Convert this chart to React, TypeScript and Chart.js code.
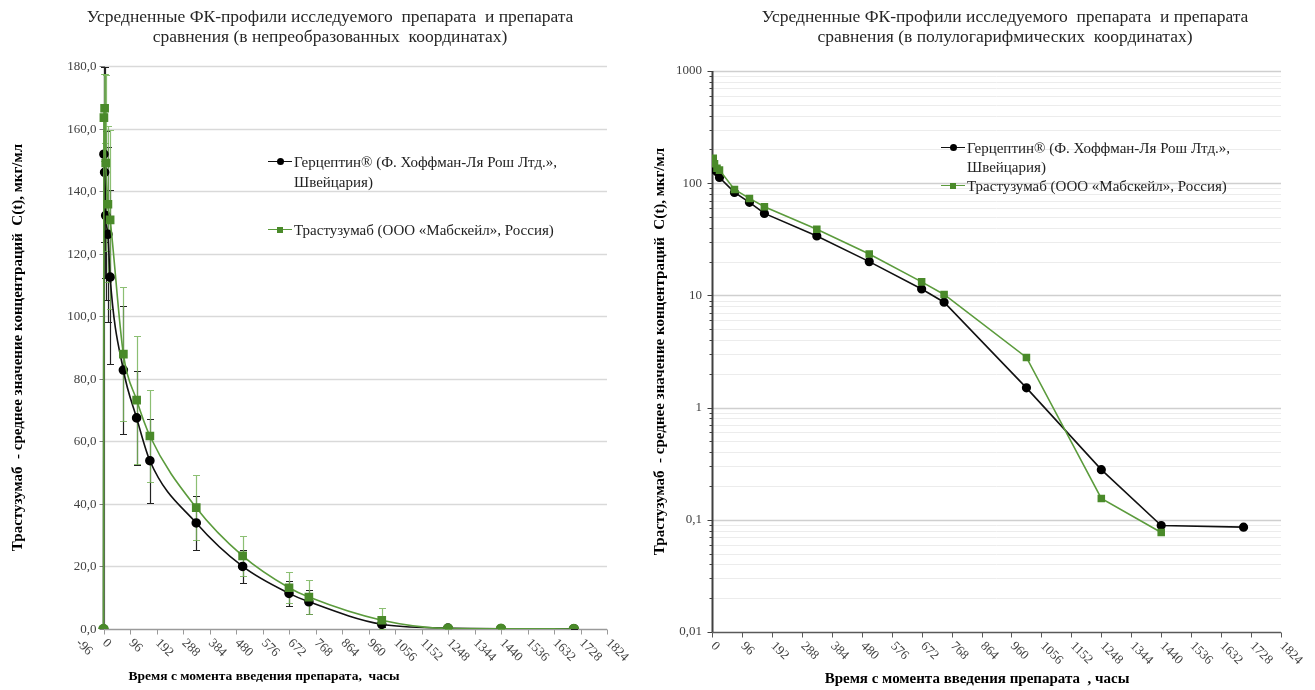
import React, { useEffect, useRef } from 'react';
import { Chart, registerables } from 'chart.js';

Chart.register(...registerables);

// ---------------- data ----------------
const timeHours = [0, 1.5, 4, 8, 16, 24, 72, 120, 168, 336, 504, 672, 744, 1008, 1248, 1440, 1704];
const herceptinMean = [0, 151.8, 146.0, 132.2, 126.2, 112.5, 82.8, 67.5, 53.8, 33.9, 20.0, 11.4, 8.7, 1.5, 0.28, 0.089, 0.086];
const herceptinSD = [0, 28.0, 33.7, 27.0, 28.0, 27.7, 20.5, 15.1, 13.4, 8.5, 5.4, 3.9, 3.8, 0.8, 0.2, 0.05, 0.05];
const trastuzumabMean = [0, 163.5, 166.5, 149.0, 135.8, 130.8, 87.9, 73.2, 61.7, 38.8, 23.4, 13.2, 10.2, 2.8, 0.155, 0.077, 0];
const trastuzumabSD = [0, 14.0, 11.0, 28.0, 25.0, 28.6, 21.4, 20.5, 14.7, 10.3, 6.3, 5.0, 5.5, 3.8, 0.2, 0.05, 0];

const xStepHours = 96;
const linXMin = -96;
const logXMin = 0;
const xMax = 1824;
const linYMin = 0;
const linYMax = 180;
const linYStep = 20;
const logYMin = 0.01;
const logYMax = 1000;
const logDecades = [0.01, 0.1, 1, 10, 100, 1000];
const logMinorMultipliers = [1, 2, 3, 4, 5, 6, 7, 8, 9];

const herceptinLegend = ['Герцептин® (Ф. Хоффман-Ля Рош Лтд.»,', 'Швейцария)'];
const trastuzumabLegend = ['Трастузумаб (ООО «Мабскейл», Россия)'];
const leftTitle = ['Усредненные ФК-профили исследуемого  препарата  и препарата', 'сравнения (в непреобразованных  координатах)'];
const rightTitle = ['Усредненные ФК-профили исследуемого  препарата  и препарата', 'сравнения (в полулогарифмических  координатах)'];
const yTitle = 'Трастузумаб  - среднее значение концентраций  С(t), мкг/мл';
const leftXTitle = 'Время с момента введения препарата,  часы';
const rightXTitle = 'Время с момента введения препарата  , часы';

// ---------------- styling ----------------
const SERIF = '"Liberation Serif", "Times New Roman", serif';
const BLACK = '#111111';
const GREEN_LINE = '#5B9B3C';
const GREEN_MARK = '#4A8A2A';
const GREEN_ERR = 'rgba(120,180,90,0.85)';
const TICK_COLOR = '#404040';

const isDecade = (v: number) => {
  const l = Math.log10(v);
  return Math.abs(l - Math.round(l)) < 1e-9;
};

const excelAxesPlugin = {
  id: 'excelAxes',
  beforeDatasetsDraw(chart: any, _args: any, opts: any) {
    const { ctx, chartArea: ca } = chart;
    const xs = chart.scales.x;
    const ys = chart.scales.y;
    const x0 = Math.round(xs.getPixelForValue(0)) + 0.5;
    ctx.save();
    ys.ticks.forEach((t: any) => {
      const py = Math.round(ys.getPixelForValue(t.value)) + 0.5;
      const major = opts.logMode ? isDecade(t.value) : true;
      if (t.value > ys.min) {
        ctx.strokeStyle = major ? opts.gridMajor : opts.gridMinor;
        ctx.lineWidth = major ? 1.5 : 1;
        ctx.beginPath();
        ctx.moveTo(x0, py);
        ctx.lineTo(ca.right, py);
        ctx.stroke();
      }
      ctx.strokeStyle = opts.yAxisColor;
      ctx.lineWidth = 1;
      const tl = major ? 5 : 3;
      ctx.beginPath();
      ctx.moveTo(x0 - tl, py);
      ctx.lineTo(x0, py);
      ctx.stroke();
      if (opts.drawYLabels) {
        ctx.save();
        ctx.font = `13px ${SERIF}`;
        ctx.fillStyle = opts.tickColor;
        ctx.textAlign = 'right';
        ctx.textBaseline = 'middle';
        ctx.fillText(Number(t.value).toFixed(1).replace('.', ','), x0 - 8, py);
        ctx.restore();
      }
    });
    ctx.strokeStyle = opts.yAxisColor;
    ctx.lineWidth = opts.yAxisWidth;
    ctx.beginPath();
    ctx.moveTo(x0, ca.top);
    ctx.lineTo(x0, ca.bottom);
    ctx.stroke();

    const yb = Math.round(ca.bottom) + 0.5;
    ctx.strokeStyle = opts.xAxisColor;
    ctx.lineWidth = 1.5;
    ctx.beginPath();
    ctx.moveTo(x0, yb);
    ctx.lineTo(ca.right, yb);
    ctx.stroke();
    ctx.lineWidth = 1;
    xs.ticks.forEach((t: any) => {
      if (t.value < 0) return;
      const px = Math.round(xs.getPixelForValue(t.value)) + 0.5;
      ctx.beginPath();
      ctx.moveTo(px, yb);
      ctx.lineTo(px, yb + 5);
      ctx.stroke();
    });
    ctx.restore();
  },
  afterDraw(chart: any, _args: any, opts: any) {
    const { ctx, chartArea: ca } = chart;
    const xs = chart.scales.x;
    ctx.save();
    ctx.font = `13px ${SERIF}`;
    ctx.fillStyle = opts.tickColor;
    ctx.textAlign = 'left';
    ctx.textBaseline = 'middle';
    xs.ticks.forEach((t: any) => {
      const px = xs.getPixelForValue(t.value);
      ctx.save();
      ctx.translate(px + 1, ca.bottom + 12);
      ctx.rotate(Math.PI / 4);
      ctx.fillText(String(t.value), 0, 0);
      ctx.restore();
    });
    ctx.restore();
  },
};

const errorBarsPlugin = {
  id: 'errorBars',
  beforeDatasetsDraw(chart: any) {
    const { ctx } = chart;
    const xs = chart.scales.x;
    const ys = chart.scales.y;
    chart.data.datasets.forEach((ds: any) => {
      if (!ds.sd) return;
      ctx.save();
      ctx.strokeStyle = ds.errorColor;
      ctx.lineWidth = 1.2;
      ds.data.forEach((p: any, i: number) => {
        const s = ds.sd[i];
        if (!s) return;
        const px = Math.round(xs.getPixelForValue(p.x)) + 0.5;
        const top = Math.round(ys.getPixelForValue(Math.min(p.y + s, ys.max))) + 0.5;
        const bot = Math.round(ys.getPixelForValue(Math.max(p.y - s, ys.min))) + 0.5;
        ctx.beginPath();
        ctx.moveTo(px, top);
        ctx.lineTo(px, bot);
        ctx.moveTo(px - 3.5, top);
        ctx.lineTo(px + 3.5, top);
        ctx.moveTo(px - 3.5, bot);
        ctx.lineTo(px + 3.5, bot);
        ctx.stroke();
      });
      ctx.restore();
    });
  },
};

const toPoints = (means: number[], positiveOnly: boolean) =>
  timeHours
    .map((t, i) => ({ x: t, y: means[i] }))
    .filter((p) => !positiveOnly || p.y > 0);

function buildLinear(): any {
  return {
    type: 'line',
    data: {
      datasets: [
        {
          label: herceptinLegend.join(' '),
          data: toPoints(herceptinMean, false),
          sd: herceptinSD,
          errorColor: '#222222',
          borderColor: BLACK,
          backgroundColor: BLACK,
          pointBackgroundColor: '#000',
          pointBorderColor: '#000',
          borderWidth: 1.6,
          pointRadius: 4,
          pointStyle: 'circle',
          cubicInterpolationMode: 'monotone',
          order: 1,
        },
        {
          label: trastuzumabLegend[0],
          data: toPoints(trastuzumabMean, false),
          sd: trastuzumabSD,
          errorColor: GREEN_ERR,
          borderColor: GREEN_LINE,
          backgroundColor: GREEN_MARK,
          pointBackgroundColor: GREEN_MARK,
          pointBorderColor: GREEN_MARK,
          borderWidth: 1.6,
          pointRadius: (c: any) => (c.raw && c.raw.y < 0.5 ? 4.5 : 5),
          pointStyle: (c: any) => (c.raw && c.raw.y < 0.5 ? 'circle' : 'rect'),
          cubicInterpolationMode: 'monotone',
          order: 0,
        },
      ],
    },
    options: {
      responsive: false,
      animation: false,
      layout: { padding: { top: 66, right: 43, bottom: 0, left: 0 } },
      plugins: {
        legend: { display: false },
        tooltip: { enabled: false },
        title: { display: false },
        excelAxes: {
          logMode: false,
          drawYLabels: true,
          gridMajor: '#d9d9d9',
          gridMinor: '#d9d9d9',
          yAxisColor: '#808080',
          yAxisWidth: 1.2,
          xAxisColor: '#9a9a9a',
          tickColor: TICK_COLOR,
        },
      },
      scales: {
        x: {
          type: 'linear',
          min: linXMin,
          max: xMax,
          ticks: { stepSize: xStepHours, display: false },
          grid: { display: false, drawTicks: false },
          border: { display: false },
          afterFit: (s: any) => {
            s.height = 61;
          },
        },
        y: {
          type: 'linear',
          min: linYMin,
          max: linYMax,
          ticks: {
            stepSize: linYStep,
            display: false,
          },
          grid: { display: false, drawTicks: false },
          border: { display: false },
          title: {
            display: true,
            text: yTitle,
            color: '#000',
            font: { family: SERIF, size: 15, weight: 'bold' },
            padding: { top: 9, bottom: 0 },
          },
          afterFit: (s: any) => {
            s.width = 77;
          },
        },
      },
    },
    plugins: [excelAxesPlugin, errorBarsPlugin],
  };
}

function buildLog(): any {
  return {
    type: 'line',
    data: {
      datasets: [
        {
          label: herceptinLegend.join(' '),
          data: toPoints(herceptinMean, true),
          borderColor: BLACK,
          backgroundColor: '#000',
          pointBackgroundColor: '#000',
          pointBorderColor: '#000',
          borderWidth: 1.6,
          pointRadius: 3.8,
          pointStyle: 'circle',
          tension: 0,
          order: 1,
        },
        {
          label: trastuzumabLegend[0],
          data: toPoints(trastuzumabMean, true),
          borderColor: GREEN_LINE,
          backgroundColor: GREEN_MARK,
          pointBackgroundColor: GREEN_MARK,
          pointBorderColor: GREEN_MARK,
          borderWidth: 1.6,
          pointRadius: 4.2,
          pointStyle: 'rect',
          tension: 0,
          order: 0,
        },
      ],
    },
    options: {
      responsive: false,
      animation: false,
      layout: { padding: { top: 71, right: 34, bottom: 0, left: 0 } },
      plugins: {
        legend: { display: false },
        tooltip: { enabled: false },
        title: { display: false },
        excelAxes: {
          logMode: true,
          drawYLabels: false,
          gridMajor: '#cfcfcf',
          gridMinor: '#ececec',
          yAxisColor: '#404040',
          yAxisWidth: 2,
          xAxisColor: '#595959',
          tickColor: TICK_COLOR,
        },
      },
      scales: {
        x: {
          type: 'linear',
          min: logXMin,
          max: xMax,
          ticks: { stepSize: xStepHours, display: false },
          grid: { display: false, drawTicks: false },
          border: { display: false },
          afterFit: (s: any) => {
            s.height = 58;
          },
        },
        y: {
          type: 'logarithmic',
          min: logYMin,
          max: logYMax,
          afterBuildTicks: (s: any) => {
            const ticks: any[] = [];
            logDecades.slice(0, -1).forEach((d) => {
              logMinorMultipliers.forEach((m) => {
                ticks.push({ value: Number((d * m).toPrecision(6)) });
              });
            });
            ticks.push({ value: logDecades[logDecades.length - 1] });
            s.ticks = ticks;
          },
          ticks: {
            autoSkip: false,
            padding: 10,
            color: TICK_COLOR,
            font: { family: SERIF, size: 13 },
            callback: (v: any) => (isDecade(Number(v)) ? String(Number(v)).replace('.', ',') : ''),
          },
          grid: { display: false, drawTicks: false },
          border: { display: false },
          title: {
            display: true,
            text: yTitle,
            color: '#000',
            font: { family: SERIF, size: 15, weight: 'bold' },
            padding: { top: 1, bottom: 0 },
          },
          afterFit: (s: any) => {
            s.width = 62;
          },
        },
      },
    },
    plugins: [excelAxesPlugin],
  };
}

function ChartCanvas({ build, width, height, left }: { build: () => any; width: number; height: number; left: number }) {
  const ref = useRef<HTMLCanvasElement | null>(null);
  useEffect(() => {
    if (!ref.current) return;
    const chart = new Chart(ref.current, build());
    return () => chart.destroy();
  }, [build]);
  return (
    <canvas
      ref={ref}
      width={width}
      height={height}
      style={{ position: 'absolute', left, top: 0, width, height, display: 'block' }}
    />
  );
}

function Title({ lines, center }: { lines: string[]; center: number }) {
  return (
    <div
      style={{
        position: 'absolute',
        left: center - 320,
        width: 640,
        top: 6,
        textAlign: 'center',
        fontFamily: SERIF,
        fontSize: 17.5,
        lineHeight: '20px',
        color: '#262626',
        whiteSpace: 'pre',
      }}
    >
      {lines.map((l, i) => (
        <div key={i}>{l}</div>
      ))}
    </div>
  );
}

function XTitle({ text, center, top, size }: { text: string; center: number; top: number; size: number }) {
  return (
    <div
      style={{
        position: 'absolute',
        left: center - 250,
        width: 500,
        top,
        textAlign: 'center',
        fontFamily: SERIF,
        fontSize: size,
        fontWeight: 'bold',
        lineHeight: '18px',
        color: '#000',
        whiteSpace: 'pre',
      }}
    >
      {text}
    </div>
  );
}

function LegendEntry({
  lines,
  left,
  centerY,
  lineHeight,
  color,
  markColor,
  square,
}: {
  lines: string[];
  left: number;
  centerY: number;
  lineHeight: number;
  color: string;
  markColor: string;
  square: boolean;
}) {
  return (
    <div style={{ position: 'absolute', left, top: centerY - lineHeight / 2, display: 'flex', alignItems: 'flex-start' }}>
      <div style={{ position: 'relative', width: 26, height: lineHeight, flex: '0 0 26px' }}>
        <div
          style={{
            position: 'absolute',
            left: 0,
            width: 24,
            top: lineHeight / 2 - 1,
            height: 0,
            borderTop: `1.6px solid ${color}`,
          }}
        />
        <div
          style={{
            position: 'absolute',
            left: 12 - (square ? 3 : 3.5),
            top: lineHeight / 2 - (square ? 3.5 : 4),
            width: square ? 6 : 7,
            height: square ? 6 : 7,
            background: markColor,
            borderRadius: square ? 0 : '50%',
          }}
        />
      </div>
      <div
        style={{
          fontFamily: SERIF,
          fontSize: 15,
          lineHeight: `${lineHeight}px`,
          color: '#222',
          whiteSpace: 'pre',
        }}
      >
        {lines.map((l, i) => (
          <div key={i}>{l}</div>
        ))}
      </div>
    </div>
  );
}

export default function App() {
  return (
    <div
      style={{
        position: 'absolute',
        left: 0,
        top: 0,
        width: 1315,
        height: 690,
        background: '#fff',
        overflow: 'hidden',
      }}
    >
      <ChartCanvas build={buildLinear} width={650} height={690} left={0} />
      <ChartCanvas build={buildLog} width={665} height={690} left={650} />
      <Title lines={leftTitle} center={330} />
      <Title lines={rightTitle} center={1005} />
      <XTitle text={leftXTitle} center={264} top={667} size={13.5} />
      <XTitle text={rightXTitle} center={977} top={669} size={15} />
      <LegendEntry lines={herceptinLegend} left={268} centerY={162} lineHeight={20} color={BLACK} markColor="#000" square={false} />
      <LegendEntry lines={trastuzumabLegend} left={268} centerY={230} lineHeight={20} color={GREEN_LINE} markColor={GREEN_MARK} square={true} />
      <LegendEntry lines={herceptinLegend} left={941} centerY={148} lineHeight={19} color={BLACK} markColor="#000" square={false} />
      <LegendEntry lines={trastuzumabLegend} left={941} centerY={186} lineHeight={19} color={GREEN_LINE} markColor={GREEN_MARK} square={true} />
    </div>
  );
}
